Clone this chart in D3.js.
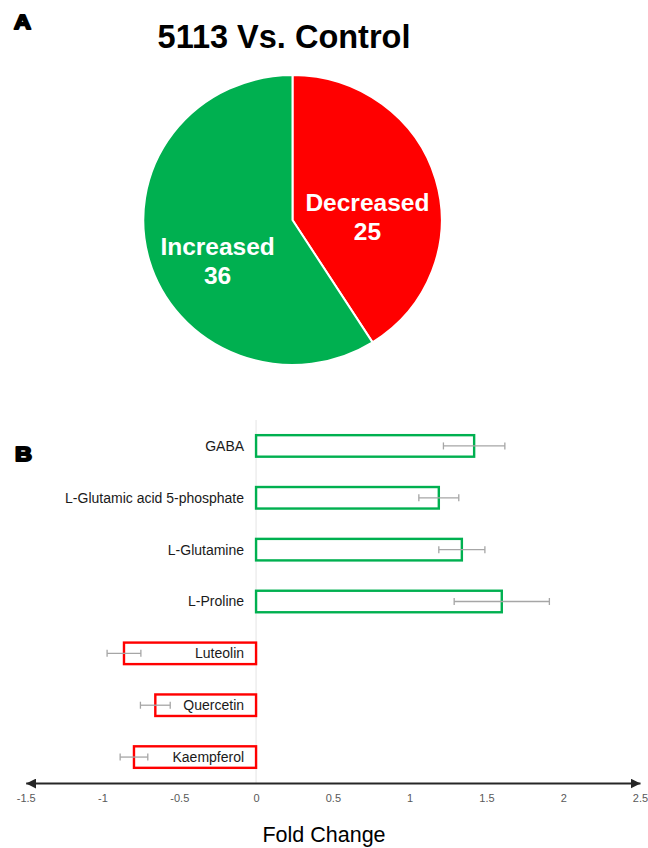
<!DOCTYPE html>
<html>
<head>
<meta charset="utf-8">
<script src="https://cdn.jsdelivr.net/npm/d3@7"></script>
<style>
  html, body { margin: 0; padding: 0; background: #fff; }
  svg { display: block; }
  text { font-family: "Liberation Sans", Arial, sans-serif; }
</style>
</head>
<body>
<svg id="chart" width="648" height="848"></svg>
<script>
// ---- Panel A data ----
const pieCategories = ["Decreased", "Increased"];
const pieValues = [25, 36];
const pieColors = ["#FF0000", "#00B050"];
const pieTitle = "5113 Vs. Control";

// ---- Panel B data ----
const metabolites = ["GABA", "L-Glutamic acid 5-phosphate", "L-Glutamine", "L-Proline", "Luteolin", "Quercetin", "Kaempferol"];
const foldChange = [1.42, 1.19, 1.34, 1.60, -0.86, -0.656, -0.795];
const foldError = [0.20, 0.13, 0.15, 0.31, 0.11, 0.097, 0.09];
const xTicks = [-1.5, -1, -0.5, 0, 0.5, 1, 1.5, 2, 2.5];
const xLabel = "Fold Change";

const svg = d3.select("#chart");
svg.append("rect").attr("width", 648).attr("height", 848).attr("fill", "#fff");

// Panel letters
function panelLetter(txt, px, py) {
  svg.append("g").attr("transform", `translate(${px},${py}) scale(1.12,1)`)
    .append("text").text(txt)
    .attr("font-size", 21).attr("font-weight", "bold")
    .attr("stroke", "#000").attr("stroke-width", 2).attr("stroke-linejoin", "round")
    .attr("fill", "#000");
}
panelLetter("A", 14, 29);
panelLetter("B", 15, 461);

// ---- Pie ----
svg.append("text").attr("x", 284).attr("y", 48).attr("text-anchor", "middle")
  .attr("font-size", 32.5).attr("font-weight", "bold").attr("fill", "#000").text(pieTitle);

const R = 145;
const pieG = svg.append("g").attr("transform", "translate(292.5,220)");
const shapeG = pieG.append("g").attr("transform", "scale(1.029,1)");
const pie = d3.pie().sort(null).value(d => d.v);
const pieData = pie(pieCategories.map((c, i) => ({ c, v: pieValues[i], col: pieColors[i] })));
const arc = d3.arc().innerRadius(0).outerRadius(R);
shapeG.selectAll("path").data(pieData).join("path")
  .attr("d", arc).attr("fill", d => d.data.col)
  .attr("stroke", "#fff").attr("stroke-width", 2).attr("vector-effect", "non-scaling-stroke");

const labelArc = d3.arc().innerRadius(78).outerRadius(78);
pieData.forEach(d => {
  const [cx, cy] = labelArc.centroid(d);
  const t = pieG.append("text").attr("text-anchor", "middle").attr("fill", "#fff")
    .attr("font-weight", "bold").attr("font-size", 24.5);
  t.append("tspan").attr("x", cx).attr("y", cy + 20 - 7).text(d.data.c);
  t.append("tspan").attr("x", cx).attr("y", cy + 20 + 22).text(d.data.v);
});

// ---- Bar chart ----
const x = d3.scaleLinear().domain([-1.5, 2.5]).range([25.7, 640]);
const y = d3.scaleBand().domain(metabolites).range([420, 783]).paddingInner(0.585).paddingOuter(0.2925);
const bars = metabolites.map((m, i) => ({ m, v: foldChange[i], e: foldError[i] }));

// zero line
svg.append("line").attr("x1", x(0)).attr("x2", x(0)).attr("y1", 420).attr("y2", 783)
  .attr("stroke", "#e4e4e4").attr("stroke-width", 1);

svg.append("g").selectAll("rect").data(bars).join("rect")
  .attr("x", d => x(Math.min(0, d.v)))
  .attr("width", d => Math.abs(x(d.v) - x(0)))
  .attr("y", d => y(d.m))
  .attr("height", y.bandwidth())
  .attr("fill", "#fff")
  .attr("stroke", d => d.v >= 0 ? "#00B050" : "#FF0000")
  .attr("stroke-width", 2.4);

// error bars
const eg = svg.append("g").attr("stroke", "#a6a6a6").attr("stroke-width", 1.3);
bars.forEach(d => {
  const cy = y(d.m) + y.bandwidth() / 2;
  eg.append("line").attr("x1", x(d.v - d.e)).attr("x2", x(d.v + d.e)).attr("y1", cy).attr("y2", cy);
  [d.v - d.e, d.v + d.e].forEach(v => {
    eg.append("line").attr("x1", x(v)).attr("x2", x(v)).attr("y1", cy - 3.5).attr("y2", cy + 3.5);
  });
});

// category labels
svg.append("g").selectAll("text").data(bars).join("text")
  .attr("x", x(0) - 12)
  .attr("y", d => y(d.m) + y.bandwidth() / 2)
  .attr("dy", "0.35em")
  .attr("text-anchor", "end")
  .attr("font-size", 14)
  .attr("fill", "#1a1a1a")
  .text(d => d.m);

// x axis with arrows
const defs = svg.append("defs");
defs.append("marker").attr("id", "arrowEnd").attr("viewBox", "0 0 10 10")
  .attr("refX", 10).attr("refY", 5).attr("markerWidth", 5).attr("markerHeight", 5)
  .attr("markerUnits", "strokeWidth").attr("orient", "auto-start-reverse")
  .append("path").attr("d", "M0,0 L10,5 L0,10 Z").attr("fill", "#262626");

const axis = d3.axisBottom(x).tickValues(xTicks).tickSize(0).tickPadding(11)
  .tickFormat(d => String(d));
const axG = svg.append("g").attr("transform", "translate(0,783)").call(axis);
axG.select(".domain").attr("stroke", "#262626").attr("stroke-width", 2)
  .attr("marker-start", "url(#arrowEnd)").attr("marker-end", "url(#arrowEnd)");
axG.selectAll(".tick text").attr("fill", "#595959").attr("font-size", 11)
  .attr("font-family", "'Open Sans', 'Liberation Sans', sans-serif");

svg.append("text").attr("x", 324).attr("y", 842).attr("text-anchor", "middle")
  .attr("font-size", 21.5).attr("fill", "#000").text(xLabel);
</script>
</body>
</html>
